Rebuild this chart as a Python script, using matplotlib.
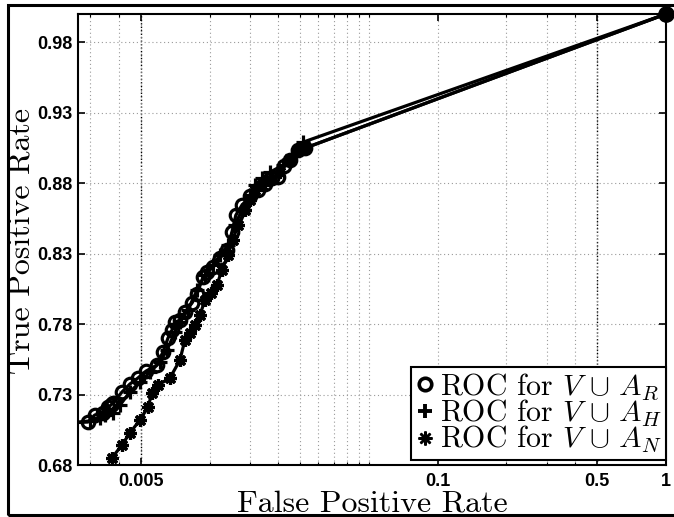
"""ROC curves for the three attribute sets, log-scaled false positive rate."""

import matplotlib

matplotlib.use("Agg")

import matplotlib.pyplot as plt
from matplotlib.lines import Line2D
from matplotlib.patches import Rectangle
from matplotlib.ticker import FixedLocator, NullFormatter

plt.rcParams["mathtext.fontset"] = "cm"

# ROC operating points (false positive rate, true positive rate)
fpr_r = [0.0024, 0.00293, 0.00314, 0.00341, 0.00359, 0.00369, 0.00377, 0.00413,
         0.00447, 0.00485, 0.00526, 0.00587, 0.00624, 0.00657, 0.00684, 0.00705,
         0.00741, 0.00779, 0.00837, 0.00880, 0.00935, 0.00974, 0.01034, 0.01109,
         0.01191, 0.01252, 0.01303, 0.01385, 0.01501, 0.01628, 0.01746, 0.01873,
         0.01990, 0.02114, 0.02246, 0.02435, 0.02614, 1.0]
tpr_r = [0.7098, 0.7105, 0.7155, 0.7169, 0.7211, 0.7225, 0.7240, 0.7318,
         0.7374, 0.7417, 0.7466, 0.7509, 0.7601, 0.7700, 0.7757, 0.7814,
         0.7828, 0.7885, 0.7949, 0.8012, 0.8133, 0.8168, 0.8204, 0.8268,
         0.8324, 0.8452, 0.8573, 0.8643, 0.8707, 0.8750, 0.8792, 0.8835,
         0.8842, 0.8920, 0.8962, 0.9033, 0.9048, 1.0]

fpr_h = [0.0024, 0.00298, 0.00331, 0.00348, 0.00377, 0.00405, 0.00447, 0.00495,
         0.00548, 0.00606, 0.00650, 0.00705, 0.00741, 0.00803, 0.00880, 0.00954,
         0.01034, 0.01109, 0.01202, 0.01290, 0.01385, 0.01501, 0.01579, 0.01694,
         0.01836, 0.02093, 0.02292, 0.02561, 1.0]
tpr_h = [0.7098, 0.7112, 0.7133, 0.7155, 0.7169, 0.7225, 0.7318, 0.7388,
         0.7459, 0.7530, 0.7615, 0.7743, 0.7814, 0.7899, 0.8041, 0.8147,
         0.8218, 0.8289, 0.8360, 0.8502, 0.8608, 0.8714, 0.8785, 0.8835,
         0.8877, 0.8927, 0.8998, 0.9090, 1.0]

fpr_n = [0.00373, 0.00413, 0.00447, 0.00495, 0.00537, 0.00559, 0.00593, 0.00670,
         0.00741, 0.00779, 0.00820, 0.00862, 0.00907, 0.00954, 0.01014, 0.01076,
         0.01132, 0.01202, 0.01264, 0.01330, 0.01428, 0.01501, 0.01579, 0.01694,
         0.01836, 0.02031, 0.02246, 0.02435, 0.02614, 1.0]
tpr_n = [0.6850, 0.6942, 0.7027, 0.7119, 0.7211, 0.7311, 0.7367, 0.7417,
         0.7544, 0.7686, 0.7736, 0.7793, 0.7864, 0.7970, 0.8019, 0.8076,
         0.8183, 0.8289, 0.8395, 0.8502, 0.8608, 0.8679, 0.8750, 0.8785,
         0.8821, 0.8877, 0.8962, 0.9033, 0.9048, 1.0]

labels = [r"ROC for $V\,\cup\,A_R$", r"ROC for $V\,\cup\,A_H$", r"ROC for $V\,\cup\,A_N$"]

x_ticks = [0.005, 0.1, 0.5, 1]
x_tick_labels = ["0.005", "0.1", "0.5", "1"]
x_minor = [0.003, 0.004, 0.01, 0.015, 0.02, 0.025, 0.03, 0.035, 0.04, 0.045,
           0.05, 0.2, 0.3, 0.4]
y_ticks = [0.68, 0.73, 0.78, 0.83, 0.88, 0.93, 0.98]
y_tick_labels = ["0.68", "0.73", "0.78", "0.83", "0.88", "0.93", "0.98"]

W, H = 674, 517
fig = plt.figure(figsize=(W / 100, H / 100), dpi=100, facecolor="white")
ax = fig.add_axes([78 / W, 52 / H, 588 / W, 451 / H])
ax.set_xscale("log")
ax.set_xlim(0.00265, 1.0)
ax.set_ylim(0.68, 1.0)

# grid: gray dotted everywhere, darker on the labelled 0.005 and 0.5 lines
grid_kw = dict(color="#9a9a9a", linestyle=(0, (1, 2.5)), linewidth=0.8)
ax.xaxis.set_major_locator(FixedLocator(x_ticks))
ax.xaxis.set_minor_locator(FixedLocator(x_minor))
ax.xaxis.set_minor_formatter(NullFormatter())
ax.set_xticks(x_ticks, x_tick_labels)
ax.set_yticks(y_ticks, y_tick_labels)
ax.grid(True, which="both", axis="x", **grid_kw)
ax.grid(True, which="major", axis="y", **grid_kw)
for xv in (0.005, 0.5):
    ax.axvline(xv, color="black", linestyle=(0, (1, 1.5)), linewidth=1.0, zorder=0.5)
ax.set_axisbelow(True)

for side in ax.spines.values():
    side.set_linewidth(1.5)
ax.tick_params(which="both", direction="in", top=True, right=True, colors="black")
ax.tick_params(which="major", length=5, width=1.2)
ax.tick_params(axis="x", which="major", pad=6)
ax.tick_params(axis="y", which="major", pad=4)
ax.tick_params(which="minor", length=2.5, width=0.8)
for lab in ax.get_xticklabels() + ax.get_yticklabels():
    lab.set_fontfamily("Liberation Sans")
    lab.set_fontweight("bold")
    lab.set_fontsize(13)

line_kw = dict(color="black", linewidth=2.3, markeredgewidth=2.3)
ax.plot(fpr_r, tpr_r, marker="o", markersize=9, markerfacecolor="none",
        markevery=slice(1, None), **line_kw)
ax.plot(fpr_h, tpr_h, marker="+", markersize=10,
        markevery=slice(1, None), **line_kw)
ax.plot(fpr_n, tpr_n, marker=(8, 2, 0), markersize=9, **line_kw)
# shared end point of all three curves
ax.plot(fpr_r[-1], tpr_r[-1], marker="o", markersize=11, color="black",
        linestyle="none", clip_on=False, zorder=5)

handles = [
    Line2D([], [], linestyle="none", marker="o", markersize=9, markerfacecolor="none",
           markeredgecolor="black", markeredgewidth=2.6),
    Line2D([], [], linestyle="none", marker="+", markersize=10,
           markeredgecolor="black", markeredgewidth=2.8),
    Line2D([], [], linestyle="none", marker=(8, 2, 0), markersize=10,
           markeredgecolor="black", markeredgewidth=1.8),
]
leg = ax.legend(
    handles, labels, loc="lower right", bbox_to_anchor=(1.0, 0.012),
    borderaxespad=0.0, fancybox=False, framealpha=1.0, edgecolor="black",
    prop={"family": "cmr10", "size": 21.5}, handlelength=0.6,
    handletextpad=0.2, labelspacing=-0.15, borderpad=0.15,
)
leg.get_frame().set_linewidth(1.5)

fig.text(372 / W, (H - 512) / H, "False Positive Rate", family="cmr10",
         fontsize=23, ha="center", va="baseline")
fig.text(22 / W, (H - 241) / H, "True Positive Rate", family="cmr10",
         fontsize=23, ha="center", va="center", rotation=90)

# thin frame round the whole figure
fig.patches.append(Rectangle((8 / W, 2 / H), (676 - 8) / W, (515 - 5) / H,
                             transform=fig.transFigure, fill=False,
                             edgecolor="black", linewidth=2.2))

fig.savefig("out.png", dpi=100, facecolor=fig.get_facecolor())
